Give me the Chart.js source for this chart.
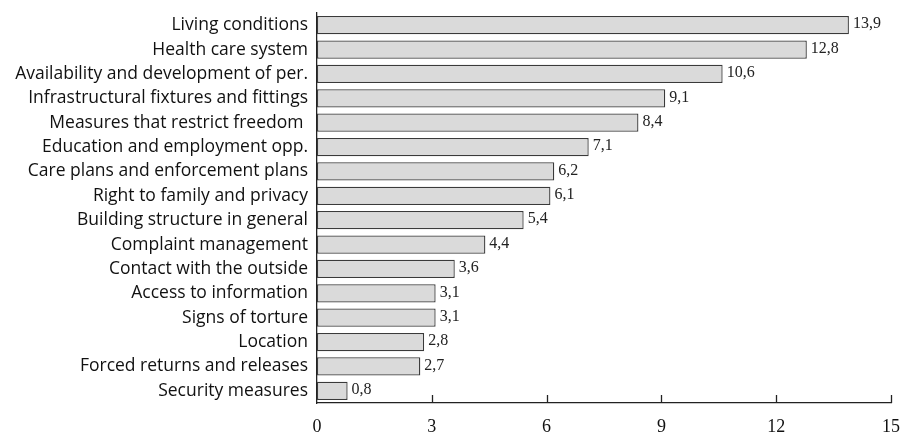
<!DOCTYPE html>
<html>
<head>
<meta charset="utf-8">
<script src="https://cdn.jsdelivr.net/npm/chart.js@4.4.1/dist/chart.umd.min.js"></script>
<style>
  html, body { margin:0; padding:0; background:#fff; }
  #wrap { width:904px; height:435px; position:relative; }
</style>
</head>
<body>
<div id="wrap"><canvas id="chart"></canvas></div>
<script>
// categories and values, top to bottom
const categories = [
    'Living conditions',
    'Health care system',
    'Availability and development of per.',
    'Infrastructural fixtures and fittings',
    'Measures that restrict freedom ',
    'Education and employment opp.',
    'Care plans and enforcement plans',
    'Right to family and privacy',
    'Building structure in general',
    'Complaint management',
    'Contact with the outside',
    'Access to information',
    'Signs of torture',
    'Location',
    'Forced returns and releases',
    'Security measures'
];
const values = [13.9, 12.8, 10.6, 9.1, 8.4, 7.1, 6.2, 6.1, 5.4, 4.4, 3.6, 3.1, 3.1, 2.8, 2.7, 0.8];
const xTicks = [0, 3, 6, 9, 12, 15];

const fmt = v => v.toFixed(1).replace('.', ',');

// value labels at bar ends
const valueLabels = {
    id: 'valueLabels',
    afterDatasetsDraw(chart) {
        const ctx = chart.ctx;
        const meta = chart.getDatasetMeta(0);
        ctx.save();
        ctx.font = '16px "Liberation Serif", serif';
        ctx.fillStyle = '#222';
        ctx.textAlign = 'left';
        ctx.textBaseline = 'middle';
        meta.data.forEach((bar, i) => {
            ctx.fillText(fmt(values[i]), bar.x + 4, bar.y - 1);
        });
        ctx.restore();
    }
};

// small upward ticks on the x axis
const innerTicks = {
    id: 'innerTicks',
    afterDraw(chart) {
        const ctx = chart.ctx;
        const x = chart.scales.x;
        const yPix = chart.chartArea.bottom;
        ctx.save();
        ctx.strokeStyle = '#222';
        ctx.lineWidth = 1.3;
        xTicks.forEach(t => {
            if (t === 0) return;
            const px = Math.round(x.getPixelForValue(t)) + 0.5;
            ctx.beginPath();
            ctx.moveTo(px, yPix);
            ctx.lineTo(px, yPix - 8);
            ctx.stroke();
        });
        ctx.restore();
    }
};

new Chart(document.getElementById('chart'), {
    type: 'bar',
    data: {
        labels: categories,
        datasets: [{
            data: values,
            backgroundColor: '#dadada',
            borderColor: '#3a3a3a',
            borderWidth: 1.3,
            borderSkipped: false,
            barPercentage: 0.75,
            categoryPercentage: 1
        }]
    },
    options: {
        indexAxis: 'y',
        responsive: true,
        maintainAspectRatio: false,
        animation: false,
        layout: { padding: { left: 0, right: 13, top: 13, bottom: 0 } },
        plugins: { legend: { display: false }, tooltip: { enabled: false } },
        scales: {
            x: {
                min: 0, max: 15,
                afterBuildTicks: s => { s.ticks = xTicks.map(v => ({ value: v })); },
                afterFit: s => { s.height = 32; s.paddingLeft = 0; s.paddingRight = 0; },
                border: { display: true, color: '#222', width: 1.3 },
                grid: { display: false, drawTicks: false },
                ticks: {
                    color: '#111',
                    padding: 13,
                    maxRotation: 0,
                    font: { family: '"Liberation Serif", serif', size: 18 },
                    callback: v => v
                }
            },
            y: {
                afterFit: s => { s.width = 317; s.paddingTop = 0; s.paddingBottom = 0; },
                border: { display: true, color: '#222', width: 1.3 },
                grid: { display: false, drawTicks: false },
                ticks: {
                    color: '#111',
                    padding: 9,
                    autoSkip: false,
                    font: { family: '"Open Sans", sans-serif', size: 17.5 }
                }
            }
        }
    },
    plugins: [valueLabels, innerTicks]
});
</script>
</body>
</html>
